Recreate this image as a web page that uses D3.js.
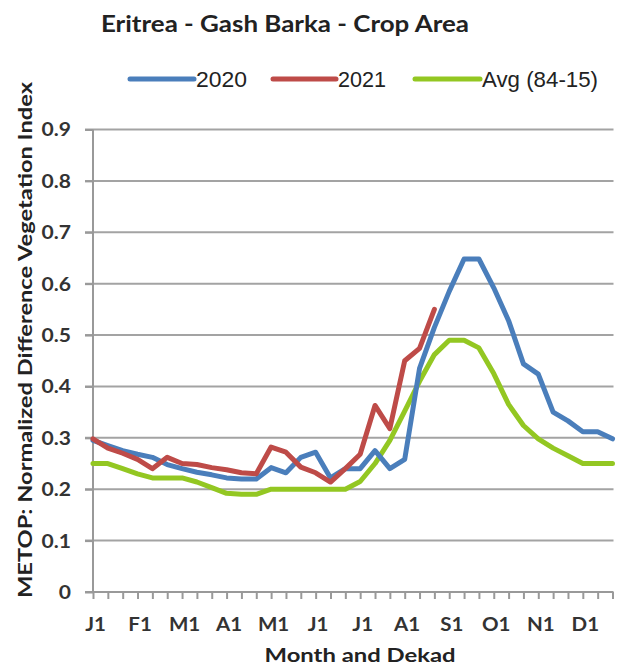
<!DOCTYPE html>
<html>
<head>
<meta charset="utf-8">
<script src="https://cdn.jsdelivr.net/npm/d3@7"></script>
<style>
  html, body { margin: 0; padding: 0; background: #fff; }
  svg { display: block; }
</style>
</head>
<body>
<div id="chart"></div>
<script>
// ---- data ----
const monthLabels = ["J1","F1","M1","A1","M1","J1","J1","A1","S1","O1","N1","D1"];
const dekadIndex = d3.range(36);
const series2020 = [0.295,0.285,0.275,0.268,0.262,0.248,0.24,0.233,0.228,0.222,0.22,0.22,
                    0.242,0.232,0.262,0.272,0.222,0.24,0.24,0.275,0.24,0.258,0.435,0.515,
                    0.585,0.648,0.648,0.592,0.528,0.444,0.424,0.35,0.333,0.312,0.312,0.298];
const series2021 = [0.298,0.28,0.27,0.258,0.24,0.262,0.25,0.248,0.242,0.238,0.232,0.23,
                    0.282,0.272,0.243,0.232,0.214,0.24,0.268,0.363,0.318,0.45,0.474,0.55];
const seriesAvg  = [0.25,0.25,0.24,0.23,0.222,0.222,0.222,0.214,0.203,0.192,0.19,0.19,
                    0.2,0.2,0.2,0.2,0.2,0.2,0.215,0.25,0.295,0.352,0.41,0.462,
                    0.49,0.49,0.475,0.425,0.365,0.324,0.298,0.28,0.265,0.25,0.25,0.25];
const yTicks = [0,0.1,0.2,0.3,0.4,0.5,0.6,0.7,0.8,0.9];
const seriesNames = ["2020","2021","Avg (84-15)"];
const seriesColors = ["#4a7ebb","#be4b48","#93c722"];

// ---- layout ----
const W = 626, H = 670;
const svg = d3.select("#chart").append("svg").attr("width", W).attr("height", H);

const x = d3.scaleLinear().domain([0, 35]).range([93, 612.5]);
const y = d3.scaleLinear().domain([0, 0.9]).range([592, 129.5]);

const calib = "Lato, 'Open Sans', 'DejaVu Sans', sans-serif";
const arial = "'Liberation Sans', Arial, sans-serif";

function fit(sel, w) {
  sel.attr("textLength", w).attr("lengthAdjust", "spacingAndGlyphs");
}
function stretch(sel, k) {
  sel.each(function() {
    const l = this.getComputedTextLength();
    if (l > 0) d3.select(this).attr("textLength", l * k).attr("lengthAdjust", "spacingAndGlyphs");
  });
}

// gridlines
svg.append("g").selectAll("line").data(yTicks.filter(d => d > 0)).join("line")
  .attr("x1", 85).attr("x2", x(35) + 1)
  .attr("y1", d => y(d)).attr("y2", d => y(d))
  .attr("stroke", "#a3a3a3").attr("stroke-width", 2);

// y axis
const yAxis = svg.append("g").attr("transform", `translate(${x(0)},0)`)
  .call(d3.axisLeft(y).tickValues(yTicks).tickSize(8)
    .tickFormat(d => d === 0 ? "0" : d.toFixed(1)));
yAxis.select(".domain").attr("stroke", "#999").attr("stroke-width", 2)
  .attr("d", `M0,${y(0.9)}V${y(0)}`);
yAxis.selectAll(".tick line").attr("stroke", "#999").attr("stroke-width", 2);
yAxis.selectAll(".tick text")
  .attr("x", -22).attr("dy", "0.36em")
  .attr("font-family", calib).attr("font-size", 18).attr("font-weight", "bold")
  .attr("fill", "#333");
stretch(yAxis.selectAll(".tick text"), 1.17);

// x axis
const xAxis = svg.append("g").attr("transform", `translate(0,${y(0)})`)
  .call(d3.axisBottom(x).tickValues(dekadIndex).tickSize(7)
    .tickFormat(d => d % 3 === 0 ? monthLabels[d / 3] : ""));
xAxis.select(".domain").attr("stroke", "#999").attr("stroke-width", 2)
  .attr("d", `M85,0H${x(35) + 1}`);
xAxis.selectAll(".tick line").attr("stroke", "#999").attr("stroke-width", 2);
xAxis.selectAll(".tick text")
  .attr("y", 39).attr("dy", 0).attr("dx", 2)
  .attr("font-family", calib).attr("font-size", 19).attr("font-weight", "bold")
  .attr("fill", "#333");
stretch(xAxis.selectAll(".tick text"), 1.08);

// lines
const allSeries = [series2020, series2021, seriesAvg];
const line = d3.line().x((d, i) => x(i)).y(d => y(d));
const drawOrder = [2, 0, 1];
drawOrder.forEach(k => {
  svg.append("path").datum(allSeries[k])
    .attr("d", line)
    .attr("fill", "none")
    .attr("stroke", seriesColors[k])
    .attr("stroke-width", 5)
    .attr("stroke-linejoin", "round")
    .attr("stroke-linecap", "round");
});

// title
svg.append("text").attr("x", 101).attr("y", 32)
  .attr("font-family", calib).attr("font-size", 22).attr("font-weight", "bold")
  .attr("fill", "#222").text("Eritrea - Gash Barka - Crop Area")
  .call(fit, 368);

// legend
const legendLines = [[130, 194], [273, 336], [415, 480]];
const legendTextW = [51, 48, 116];
seriesNames.forEach((name, k) => {
  const [a, b] = legendLines[k];
  svg.append("line").attr("x1", a).attr("x2", b).attr("y1", 79).attr("y2", 79)
    .attr("stroke", seriesColors[k]).attr("stroke-width", 5).attr("stroke-linecap", "round");
  svg.append("text").attr("x", b + 2).attr("y", 87)
    .attr("font-family", arial).attr("font-size", 22)
    .attr("fill", "#222").text(name)
    .call(fit, legendTextW[k]);
});

// axis titles
svg.append("text").attr("transform", "translate(32,340) rotate(-90)")
  .attr("text-anchor", "middle")
  .attr("font-family", calib).attr("font-size", 19).attr("font-weight", "bold")
  .attr("fill", "#222").text("METOP: Normalized Difference Vegetation Index")
  .call(fit, 516);

svg.append("text").attr("x", 360).attr("y", 662)
  .attr("text-anchor", "middle")
  .attr("font-family", calib).attr("font-size", 19).attr("font-weight", "bold")
  .attr("fill", "#222").text("Month and Dekad")
  .call(fit, 191);
</script>
</body>
</html>
